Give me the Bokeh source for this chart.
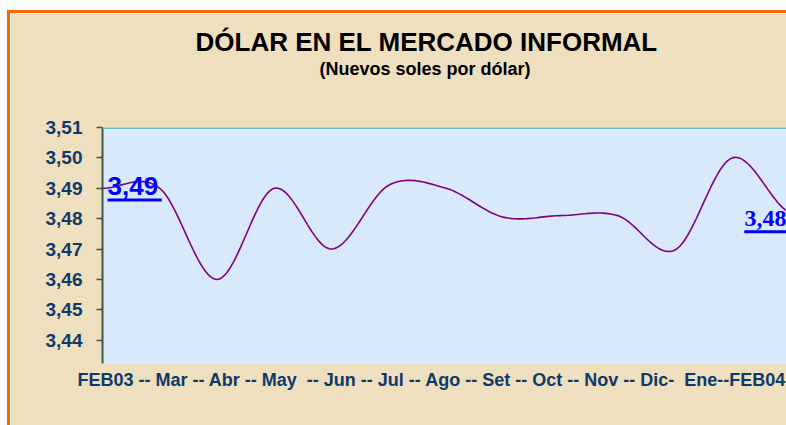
import numpy as np
from bokeh.plotting import figure
from bokeh.models import Span, Title, CustomJSTickFormatter, FixedTicker
from bokeh.core.properties import value
from bokeh.embed import file_html
from bokeh.resources import INLINE

# ---- data ----
months = ["FEB03", "Mar", "Abr", "May", "Jun", "Jul", "Ago", "Set", "Oct", "Nov", "Dic", "Ene", "FEB04"]
values = [3.490, 3.490, 3.460, 3.490, 3.470, 3.491, 3.490, 3.4805, 3.481, 3.481, 3.4697, 3.500, 3.482]
x_label_text = "FEB03 -- Mar -- Abr -- May \u00a0-- Jun -- Jul -- Ago -- Set -- Oct -- Nov -- Dic- \u00a0Ene--FEB04"
y_ticks = [3.44, 3.45, 3.46, 3.47, 3.48, 3.49, 3.50, 3.51]
title_text = "DÓLAR EN EL MERCADO INFORMAL"
subtitle_text = "(Nuevos soles por dólar)"

# ---- layout (figure content starts at page x=10, y=13 after its margin/border) ----
BORDER = 3
W, H = 776 + BORDER, 412 + BORDER
ML, MR, MT, MB = 92, 0, 114, 65
frame_w = W - BORDER - ML - MR
frame_h = H - BORDER - MT - MB
px_per_unit = 3000.0
x_end = float(len(values) - 1)
px_per_month = frame_w / x_end
y_top = max(y_ticks)
y_lo = y_top - frame_h / px_per_unit

BEIGE = "#EEDFBF"
BLUE_BG = "#D7E9FA"
NAVY = "#0E3A6B"

# smooth curve (Bezier through the data points, like a smoothed spreadsheet line)
xi = np.arange(len(values), dtype=float)
yi = np.array(values)
xs, ys = [], []
n = len(values)
for i in range(n - 1):
    p0 = yi[max(i - 1, 0)]
    p1 = yi[i]
    p2 = yi[i + 1]
    p3 = yi[min(i + 2, n - 1)]
    c1 = p1 + (p2 - p0) / 6.0
    c2 = p2 - (p3 - p1) / 6.0
    t = np.linspace(0, 1, 25)
    b = (1 - t) ** 3 * p1 + 3 * (1 - t) ** 2 * t * c1 + 3 * (1 - t) * t ** 2 * c2 + t ** 3 * p2
    xs.extend(list(xi[i] + t))
    ys.extend(list(b))

p = figure(width=W, height=H, x_range=(0, x_end), y_range=(y_lo, y_top),
           output_backend="svg", toolbar_location=None,
           min_border_left=ML, min_border_right=MR, min_border_top=MT, min_border_bottom=MB)
p.styles = {"margin-left": "7px", "margin-top": "10px",
            "border-left": f"{BORDER}px solid #FF6600", "border-top": f"{BORDER}px solid #FF6600"}
p.background_fill_color = BLUE_BG
p.border_fill_color = BEIGE
p.outline_line_color = None
p.grid.visible = False
p.xaxis.visible = False

ya = p.yaxis[0]
ya.ticker = FixedTicker(ticks=y_ticks)
ya.formatter = CustomJSTickFormatter(code="return tick.toFixed(2).replace('.', ',');")
ya.major_label_text_font = "Liberation Sans"
ya.major_label_text_font_size = "19px"
ya.major_label_text_font_style = "bold"
ya.major_label_text_color = NAVY
ya.major_label_standoff = 14
ya.axis_line_color = "#3F5443"
ya.axis_line_width = 2
ya.major_tick_in = 0
ya.major_tick_out = 6
ya.major_tick_line_color = "#3F5443"
ya.major_tick_line_width = 1.5
ya.minor_tick_line_color = None

# top teal border of plot area
p.add_layout(Span(location=y_top, dimension="width", line_color="#6CBFAE", line_width=3))

p.line(xs, ys, line_color="#800080", line_width=1.6)

# data labels (first and last point)
first_lbl = f"{values[0]:.2f}".replace(".", ",")
last_lbl = f"{values[-1]:.2f}".replace(".", ",")
p.text(x=[xi[0]], y=[values[0]], text=[first_lbl], x_offset=5, y_offset=-2,
       text_font=value("Liberation Sans"), text_font_style="bold", text_font_size=value("26px"),
       text_color="#0000FF", text_baseline="alphabetic", text_align="left")
p.text(x=[xi[-1]], y=[values[-1]], text=[last_lbl], x_offset=-45, y_offset=6,
       text_font=value("Liberation Serif"), text_font_style="bold", text_font_size=value("24px"),
       text_color="#0000FF", text_baseline="alphabetic", text_align="left")
# underlines
p.segment(x0=[xi[0] + 5 / px_per_month], x1=[xi[0] + 59 / px_per_month],
          y0=[values[0] - 11.5 / px_per_unit], y1=[values[0] - 11.5 / px_per_unit],
          line_color="#0000FF", line_width=3)
p.segment(x0=[xi[-1] - 45 / px_per_month], x1=[xi[-1] + 5 / px_per_month],
          y0=[values[-1] - 19 / px_per_unit], y1=[values[-1] - 19 / px_per_unit],
          line_color="#0000FF", line_width=3)

# titles above (first added = closest to the plot)
p.add_layout(Title(text="\u00a0", standoff=44, text_font_size="1px"), "above")
p.add_layout(Title(text=subtitle_text, align="left", offset=217, standoff=0, vertical_align="top",
                   text_font="Liberation Sans", text_font_style="bold", text_font_size="18px",
                   text_color="#000000"), "above")
p.add_layout(Title(text=title_text, align="left", offset=93, standoff=4, vertical_align="bottom",
                   text_font="Liberation Sans", text_font_style="bold", text_font_size="26px",
                   text_color="#000000"), "above")
# month text under the plot
p.add_layout(Title(text=x_label_text, align="left", offset=-25, standoff=8,
                   text_font="Liberation Sans", text_font_style="bold", text_font_size="18px",
                   text_color=NAVY), "below")

open("out.html", "w").write(file_html(p, INLINE))
